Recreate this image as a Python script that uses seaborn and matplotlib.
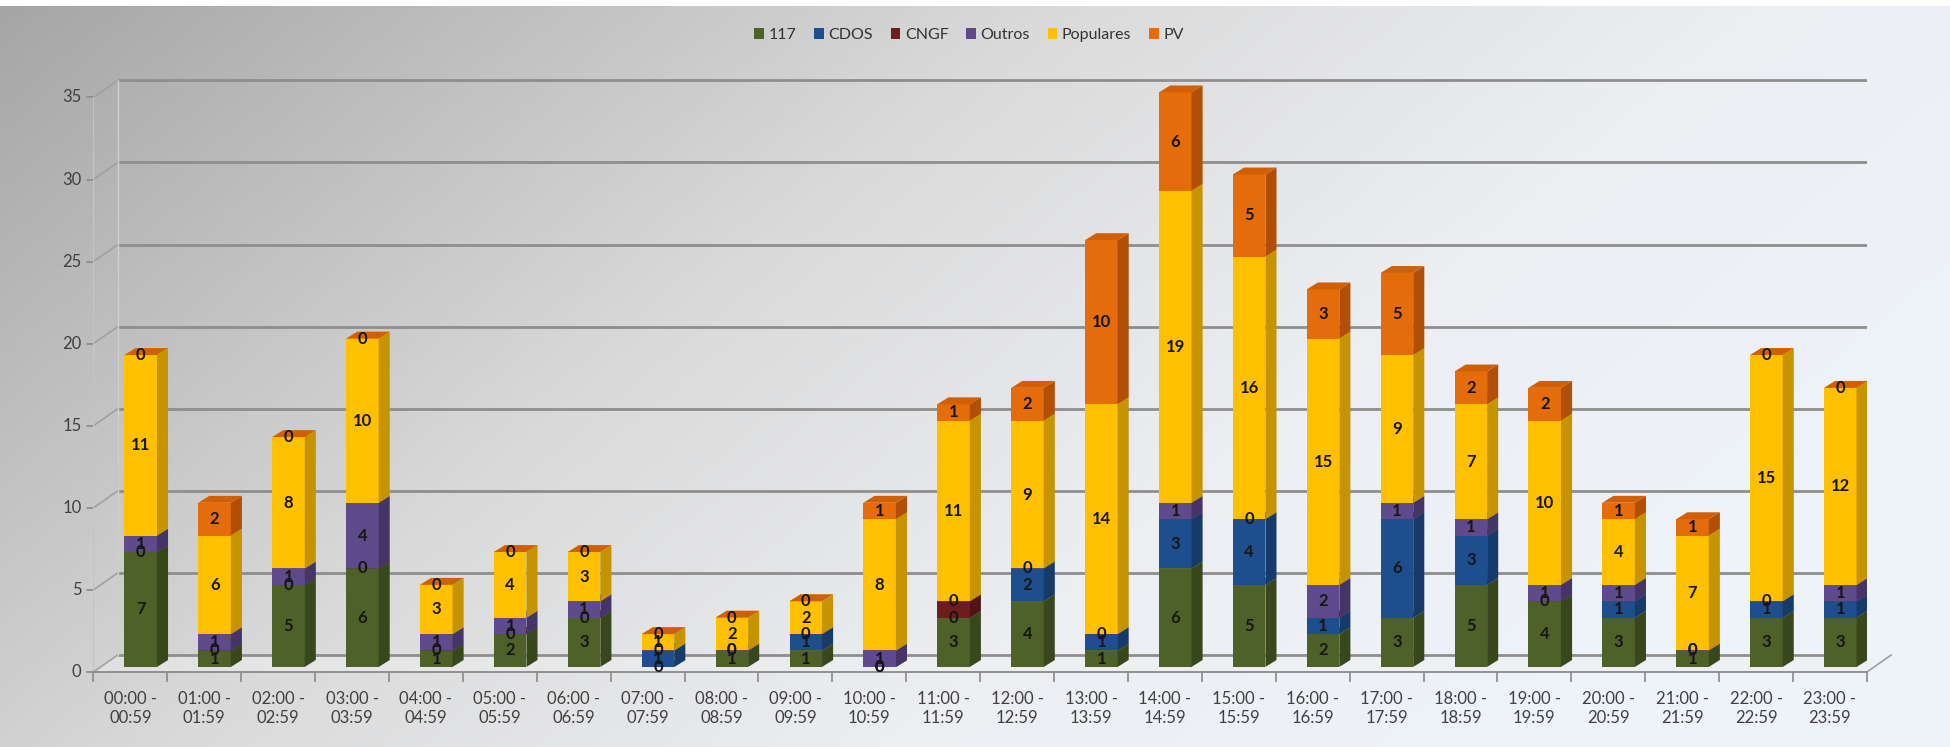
import numpy as np
import pandas as pd
import seaborn as sns
import matplotlib.pyplot as plt
from matplotlib.patches import Polygon
from matplotlib.colors import LinearSegmentedColormap

sns.set_style("white")
plt.rcParams['font.family'] = ['Lato', 'DejaVu Sans']

hours = ["00:00 -\n00:59", "01:00 -\n01:59", "02:00 -\n02:59", "03:00 -\n03:59",
         "04:00 -\n04:59", "05:00 -\n05:59", "06:00 -\n06:59", "07:00 -\n07:59",
         "08:00 -\n08:59", "09:00 -\n09:59", "10:00 -\n10:59", "11:00 -\n11:59",
         "12:00 -\n12:59", "13:00 -\n13:59", "14:00 -\n14:59", "15:00 -\n15:59",
         "16:00 -\n16:59", "17:00 -\n17:59", "18:00 -\n18:59", "19:00 -\n19:59",
         "20:00 -\n20:59", "21:00 -\n21:59", "22:00 -\n22:59", "23:00 -\n23:59"]
s117 = [7, 1, 5, 6, 1, 2, 3, 0, 1, 1, 0, 3, 4, 1, 6, 5, 2, 3, 5, 4, 3, 1, 3, 3]
cdos = [0, 0, 0, 0, 0, 0, 0, 1, 0, 1, 0, 0, 2, 1, 3, 4, 1, 6, 3, 0, 1, 0, 1, 1]
cngf = [0, 0, 0, 0, 0, 0, 0, 0, 0, 0, 0, 1, 0, 0, 0, 0, 0, 0, 0, 0, 0, 0, 0, 0]
outros = [1, 1, 1, 4, 1, 1, 1, 0, 0, 0, 1, 0, 0, 0, 1, 0, 2, 1, 1, 1, 1, 0, 0, 1]
populares = [11, 6, 8, 10, 3, 4, 3, 1, 2, 2, 8, 11, 9, 14, 19, 16, 15, 9, 7, 10, 4, 7, 15, 12]
pv = [0, 2, 0, 0, 0, 0, 0, 0, 0, 0, 1, 1, 2, 10, 6, 5, 3, 5, 2, 2, 1, 1, 0, 0]
y_ticks = [0, 5, 10, 15, 20, 25, 30, 35]

series = ["117", "CDOS", "CNGF", "Outros", "Populares", "PV"]
df = pd.DataFrame({"hora": hours, "117": s117, "CDOS": cdos, "CNGF": cngf,
                   "Outros": outros, "Populares": populares, "PV": pv})
# front, side, top
colors = {
    "117": ("#4e6128", "#39471d", "#5b7030"),
    "CDOS": ("#1f4e8e", "#163a6a", "#2a5c9e"),
    "CNGF": ("#6f1c1c", "#511313", "#802626"),
    "Outros": ("#5f4a8b", "#453567", "#6b5799"),
    "Populares": ("#ffc000", "#c69400", "#f2b600"),
    "PV": ("#e46c0a", "#b04f05", "#d05f06"),
}
show_labels = ["117", "CDOS", "Outros", "Populares", "PV"]

# 3d geometry (data units)
dx, dy = 0.15, 0.42          # bar depth
fx, fy = -0.14, -0.31        # front plane offset
bx, by = 0.33, 0.73          # back wall offset
xl, xr = -0.5 + fx, len(hours) - 0.5 + fx

fig = plt.figure(figsize=(19.5, 7.47), dpi=100, facecolor="white")

# background gradient
bg = fig.add_axes([0, 0, 1, 0.992], zorder=-10)
yy, xx = np.mgrid[0:1:150j, 0:1:400j]
t = np.clip((xx + 0.45 * yy) / 1.2, 0, 1)
cmap = LinearSegmentedColormap.from_list("bg", [(0, "#a6a6a6"), (0.45, "#dadada"), (0.75, "#eceef2"), (1, "#eef2f9")])
bg.imshow(t, cmap=cmap, aspect="auto", extent=[0, 1, 0, 1], origin="upper")
bg.axis("off")

ax = fig.add_axes([0.0479, 0.1004, 0.9095, 0.8199])
ax.set_facecolor("none")

grid_c = "#8e8e8e"
for v in y_ticks:
    ax.plot([xl + bx, xr + bx], [v + by, v + by], color=grid_c, lw=2, zorder=1, solid_capstyle="butt")
    ax.plot([xl, xl + bx], [v + fy, v + by], color="#a0a0a0", lw=1.2, zorder=1)
    ax.plot([xl - 0.08, xl], [v + fy, v + fy], color="#8a8a8a", lw=1.2, zorder=1, clip_on=False)
    ax.text(xl - 0.16, v + fy, str(v), ha="right", va="center", fontsize=12, color="#404040")
ax.plot([xl, xl], [fy, y_ticks[-1] + fy], color="#c4c4c4", lw=1, zorder=1)
ax.plot([xl + bx, xl + bx], [by, y_ticks[-1] + by], color="#cfcfcf", lw=1, zorder=1)
ax.add_patch(Polygon([(xl, fy), (xr, fy), (xr + bx, by), (xl + bx, by)], closed=True,
                     facecolor="#f0f0f0", edgecolor="none", alpha=0.5, zorder=0.5))
ax.plot([xr, xr + bx], [fy, by], color="#a0a0a0", lw=1.2, zorder=1, clip_on=False)

bottom = np.zeros(len(hours))
containers = {}
for s in series:
    front, side, top = colors[s]
    sns.barplot(data=df, x="hora", y=s, order=hours, bottom=bottom, color=front,
                width=0.44, errorbar=None, label=s, saturation=1, ax=ax, zorder=3,
                linewidth=0)
    cont = ax.containers[-1]
    containers[s] = cont
    for bar in cont.patches:
        x0, y0 = bar.get_x(), bar.get_y()
        x1, y1 = x0 + bar.get_width(), y0 + bar.get_height()
        ax.add_patch(Polygon([(x1, y0), (x1 + dx, y0 + dy), (x1 + dx, y1 + dy), (x1, y1)],
                             closed=True, facecolor=side, edgecolor="none", zorder=3))
        ax.add_patch(Polygon([(x0, y1), (x0 + dx, y1 + dy), (x1 + dx, y1 + dy), (x1, y1)],
                             closed=True, facecolor=top, edgecolor="none", zorder=3))
    bottom = bottom + df[s].to_numpy()

for s in show_labels:
    ax.bar_label(containers[s], labels=[str(v) for v in df[s]], label_type="center",
                 fontsize=12, fontweight="bold", color="#161616", zorder=10)

ax.set_xlim(xl, xr)
ax.set_ylim(fy, 37)
ax.set_yticks([])
ax.set_xticks(np.arange(len(hours)) + fx, labels=hours)
ax.set_xticks(np.arange(len(hours) + 1) - 0.5 + fx, minor=True)
ax.tick_params(axis="x", which="major", length=0, pad=14, labelsize=12, labelcolor="#404040")
ax.tick_params(axis="x", which="minor", length=7, width=1.2, color="#8a8a8a", direction="out")
ax.tick_params(axis="x", which="both", bottom=True)
ax.set_xlabel("")
ax.set_ylabel("")
for sp in ["top", "right", "left"]:
    ax.spines[sp].set_visible(False)
ax.spines["bottom"].set_color("#8a8a8a")
ax.spines["bottom"].set_linewidth(1.3)

if ax.get_legend() is not None:
    ax.get_legend().remove()
handles, labels = ax.get_legend_handles_labels()
fig.legend(handles, labels, loc="center", bbox_to_anchor=(0.497, 0.953), ncol=6, frameon=False,
           handlelength=0.6, handleheight=0.6, handletextpad=0.3, columnspacing=1.1,
           fontsize=11.5, labelcolor="#333333")

fig.savefig("out.png", dpi=100)
